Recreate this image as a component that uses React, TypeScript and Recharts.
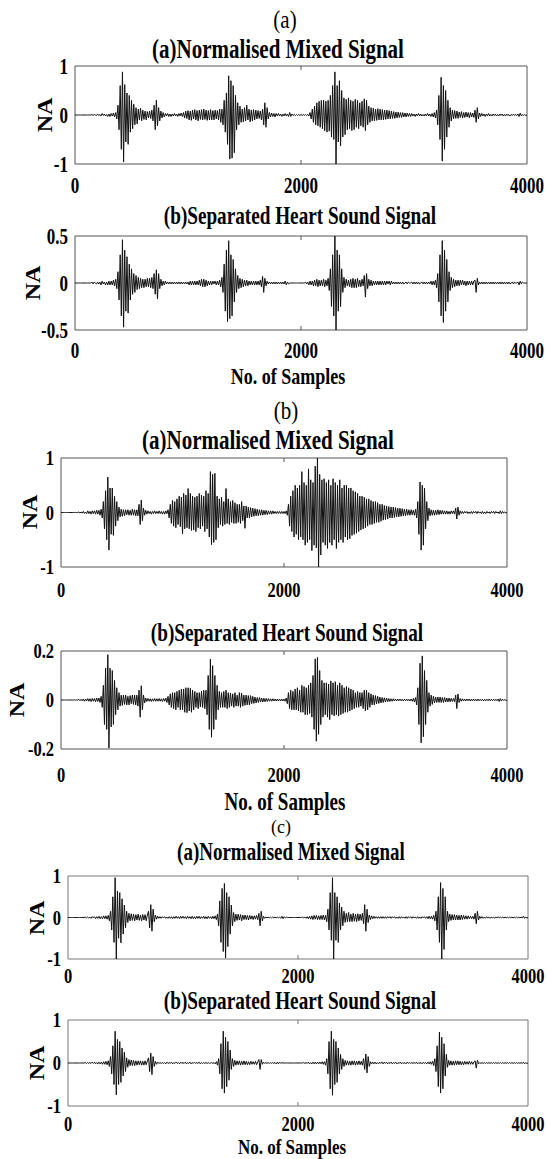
import React from 'react';
import { LineChart, Line, XAxis, YAxis, ReferenceArea } from 'recharts';

// one value every STEP samples, 0..4000 (rows of 20 = 200 samples)
const STEP = 10;
const X_TICKS = [0, 2000, 4000];
const FONT = '"Liberation Serif", "Times New Roman", Times, serif';

// (a) normalised mixed signal
const mixA = [
  0, 0, 0, 0, 0, 0, 0, 0, 0, 0, 0, 0, 0, 0, 0, 0.01, -0.01, 0.01, 0, -0.01,
  0.02, -0.01, 0.01, -0.02, 0.03, -0.01, 0.02, -0.02, 0.01, -0.03, 0.02, -0.03, 0.03, -0.02, 0.04, -0.04, 0.05, -0.08, 0.2, -0.3,
  0.6, -0.7, 0.88, -0.96, 0.62, -0.55, 0.45, -0.6, 0.4, -0.35, 0.3, -0.28, 0.22, -0.2, 0.15, -0.18, 0.12, -0.1, 0.14, -0.12,
  0.1, -0.09, 0.08, -0.1, 0.07, -0.06, 0.08, -0.07, 0.1, -0.12, 0.2, -0.3, 0.3, -0.22, 0.15, -0.12, 0.08, -0.06, 0.05, -0.04,
  0.03, -0.02, 0.03, -0.03, 0.02, -0.03, 0.02, -0.02, 0.03, -0.02, 0.02, -0.03, 0.03, -0.02, 0.04, -0.03, 0.05, -0.06, 0.08, -0.07,
  0.09, -0.1, 0.08, -0.11, 0.1, -0.08, 0.11, -0.1, 0.09, -0.12, 0.1, -0.09, 0.11, -0.1, 0.12, -0.09, 0.1, -0.11, 0.09, -0.1,
  0.11, -0.1, 0.09, -0.1, 0.1, -0.08, 0.09, -0.1, 0.12, -0.15, 0.12, -0.2, 0.3, -0.35, 0.45, -0.6, 0.8, -0.9, 0.7, -0.88,
  0.6, -0.77, 0.4, -0.3, 0.25, -0.2, 0.18, -0.15, 0.12, -0.14, 0.15, -0.12, 0.2, -0.1, 0.12, -0.14, 0.1, -0.12, 0.11, -0.1,
  0.1, -0.08, 0.09, -0.07, 0.08, -0.1, 0.12, -0.2, 0.25, -0.25, 0.15, -0.08, 0.05, -0.04, 0.04, -0.03, 0.03, -0.04, 0.03, -0.02,
  0.03, -0.02, 0.02, -0.03, 0.02, -0.02, 0.03, -0.02, 0.02, -0.03, 0.05, -0.03, 0.02, -0.01, 0.01, -0.01, 0.01, -0.01, 0.01, -0.01,
  0.01, -0.01, 0.01, -0.01, 0.01, -0.01, 0.01, -0.02, 0.05, -0.08, 0.12, -0.15, 0.18, -0.2, 0.25, -0.22, 0.28, -0.25, 0.3, -0.28,
  0.3, -0.32, 0.28, -0.35, 0.3, -0.33, 0.4, -0.45, 0.6, -0.5, 0.88, -1, 0.6, -0.55, 0.7, -0.63, 0.5, -0.45, 0.35, -0.4,
  0.32, -0.3, 0.35, -0.28, 0.3, -0.32, 0.28, -0.3, 0.32, -0.25, 0.3, -0.28, 0.25, -0.22, 0.28, -0.25, 0.33, -0.32, 0.3, -0.2,
  0.18, -0.15, 0.15, -0.12, 0.14, -0.12, 0.12, -0.11, 0.13, -0.1, 0.12, -0.1, 0.11, -0.1, 0.1, -0.09, 0.1, -0.08, 0.09, -0.08,
  0.08, -0.07, 0.07, -0.07, 0.06, -0.06, 0.06, -0.05, 0.05, -0.05, 0.05, -0.04, 0.04, -0.04, 0.04, -0.03, 0.03, -0.03, 0.03, -0.02,
  0.02, -0.03, 0.02, -0.02, 0.03, -0.02, 0.02, -0.02, 0.01, -0.02, 0.02, -0.02, 0.03, -0.02, 0.02, -0.03, 0.03, -0.04, 0.05, -0.06,
  0.1, -0.2, 0.4, -0.5, 0.77, -0.94, 0.6, -0.7, 0.5, -0.45, 0.3, -0.25, 0.15, -0.12, 0.1, -0.08, 0.09, -0.07, 0.08, -0.07,
  0.06, -0.05, 0.07, -0.06, 0.05, -0.05, 0.06, -0.04, 0.05, -0.06, 0.05, -0.04, 0.04, -0.05, 0.1, -0.15, 0.15, -0.08, 0.04, -0.03,
  0.03, -0.02, 0.02, -0.03, 0.02, -0.02, 0.03, -0.02, 0.01, -0.02, 0.02, -0.01, 0.02, -0.02, 0.01, -0.02, 0.02, -0.01, 0.02, -0.02,
  0.01, -0.02, 0.02, -0.01, 0.01, -0.02, 0.01, -0.01, 0.02, -0.01, 0.01, -0.01, 0.02, -0.03, 0.04, -0.02, 0.01, -0.01, 0.01, -0.01,
  0,
];

// (a) separated heart sound
const sepA = [
  0, 0, 0, 0, 0, 0, 0, 0, 0, 0, 0, 0, 0, 0, 0, 0.01, -0.01, 0.01, 0, -0.01,
  0.01, -0.01, 0.01, -0.02, 0.02, -0.01, 0.01, -0.02, 0.01, -0.02, 0.02, -0.02, 0.02, -0.02, 0.03, -0.03, 0.04, -0.06, 0.12, -0.18,
  0.3, -0.35, 0.46, -0.47, 0.35, -0.3, 0.28, -0.32, 0.2, -0.18, 0.15, -0.12, 0.1, -0.1, 0.08, -0.07, 0.06, -0.06, 0.05, -0.05,
  0.04, -0.05, 0.04, -0.04, 0.05, -0.04, 0.05, -0.05, 0.06, -0.06, 0.1, -0.12, 0.14, -0.17, 0.1, -0.06, 0.04, -0.03, 0.02, -0.02,
  0.02, -0.01, 0.01, -0.01, 0.01, -0.01, 0.01, -0.01, 0.01, -0.01, 0.01, -0.01, 0.01, -0.01, 0.01, -0.01, 0.01, -0.01, 0.01, -0.01,
  0.01, -0.02, 0.02, -0.02, 0.02, -0.02, 0.02, -0.02, 0.02, -0.02, 0.03, -0.03, 0.04, -0.04, 0.04, -0.04, 0.03, -0.03, 0.02, -0.02,
  0.02, -0.02, 0.02, -0.01, 0.02, -0.02, 0.02, -0.02, 0.03, -0.04, 0.06, -0.1, 0.2, -0.3, 0.35, -0.41, 0.45, -0.38, 0.3, -0.35,
  0.25, -0.2, 0.15, -0.1, 0.08, -0.06, 0.05, -0.05, 0.04, -0.04, 0.03, -0.03, 0.03, -0.03, 0.02, -0.02, 0.02, -0.02, 0.02, -0.02,
  0.02, -0.02, 0.02, -0.02, 0.03, -0.04, 0.07, -0.1, 0.05, -0.03, 0.02, -0.01, 0.01, -0.01, 0.01, -0.01, 0.01, -0.01, 0.01, -0.01,
  0.01, -0.01, 0.01, -0.01, 0.01, -0.01, 0.02, -0.02, 0.01, -0.01, 0, 0, 0, 0, 0, 0, 0, 0, 0, 0,
  0, 0, 0, 0, 0.01, -0.01, 0.01, -0.02, 0.02, -0.02, 0.02, -0.03, 0.03, -0.03, 0.04, -0.04, 0.03, -0.03, 0.03, -0.03,
  0.04, -0.04, 0.03, -0.03, 0.05, -0.08, 0.15, -0.25, 0.3, -0.35, 0.5, -0.5, 0.35, -0.3, 0.3, -0.25, 0.15, -0.1, 0.06, -0.05,
  0.04, -0.03, 0.03, -0.04, 0.04, -0.05, 0.05, -0.05, 0.04, -0.05, 0.05, -0.04, 0.03, -0.04, 0.04, -0.03, 0.08, -0.15, 0.1, -0.06,
  0.04, -0.03, 0.03, -0.03, 0.02, -0.02, 0.02, -0.02, 0.02, -0.02, 0.02, -0.02, 0.02, -0.02, 0.02, -0.02, 0.02, -0.01, 0.02, -0.02,
  0.02, -0.01, 0.01, -0.01, 0.01, -0.01, 0.01, -0.01, 0.01, -0.01, 0.01, -0.01, 0, 0.01, -0.01, 0.01, 0, 0, 0.01, -0.01,
  0.01, -0.01, 0.01, -0.01, 0.01, -0.01, 0, 0.01, -0.01, 0.01, -0.01, 0.01, -0.01, 0.01, -0.01, 0.02, -0.02, 0.02, -0.02, 0.03,
  -0.05, 0.1, -0.2, 0.3, -0.35, 0.45, -0.42, 0.35, -0.3, 0.25, -0.2, 0.12, -0.08, 0.06, -0.05, 0.04, -0.04, 0.03, -0.03, 0.03,
  -0.03, 0.03, -0.02, 0.03, -0.02, 0.02, -0.03, 0.02, -0.02, 0.02, -0.02, 0.02, -0.02, 0.02, 0.03, -0.1, 0.05, -0.02, 0.01, -0.01,
  0.01, -0.01, 0.01, -0.01, 0.01, -0.01, 0.01, -0.01, 0.01, -0.01, 0.01, -0.01, 0.01, -0.01, 0.01, -0.01, 0.01, -0.01, 0.01, -0.01,
  0.01, -0.01, 0.01, -0.01, 0.01, -0.01, 0, 0.01, -0.01, 0.01, 0, 0, 0.01, -0.02, 0.02, -0.01, 0.01, 0, 0, 0,
  0,
];

// (b) normalised mixed signal
const mixB = [
  0, 0, 0, 0, 0, 0, 0, 0, 0, 0, 0, 0, 0, 0, 0, 0, 0.01, -0.01, 0.01, -0.01,
  0.02, -0.02, 0.01, -0.02, 0.03, -0.02, 0.02, -0.03, 0.03, -0.02, 0.03, -0.03, 0.04, -0.03, 0.04, -0.05, 0.06, -0.1, 0.2, -0.3,
  0.4, -0.5, 0.65, -0.69, 0.45, -0.4, 0.45, -0.42, 0.3, -0.25, 0.2, -0.15, 0.1, -0.08, 0.06, -0.07, 0.05, -0.06, 0.05, -0.04,
  0.05, -0.05, 0.04, -0.05, 0.06, -0.05, 0.05, -0.06, 0.05, -0.06, 0.15, -0.22, 0.23, -0.15, 0.08, -0.05, 0.04, -0.03, 0.03, -0.02,
  0.02, -0.03, 0.02, -0.02, 0.03, -0.02, 0.02, -0.02, 0.03, -0.02, 0.02, -0.03, 0.02, -0.03, 0.03, -0.02, 0.05, -0.1, 0.15, -0.2,
  0.22, -0.25, 0.2, -0.28, 0.25, -0.22, 0.3, -0.26, 0.28, -0.39, 0.35, -0.3, 0.32, -0.28, 0.44, -0.3, 0.35, -0.33, 0.3, -0.32,
  0.28, -0.35, 0.3, -0.28, 0.35, -0.3, 0.32, -0.25, 0.3, -0.35, 0.4, -0.3, 0.35, -0.45, 0.75, -0.59, 0.7, -0.55, 0.72, -0.5,
  0.3, -0.28, 0.25, -0.22, 0.28, -0.25, 0.2, -0.22, 0.44, -0.2, 0.25, -0.22, 0.2, -0.18, 0.22, -0.2, 0.18, -0.2, 0.15, -0.18,
  0.15, -0.2, 0.2, -0.15, 0.12, -0.29, 0.12, -0.1, 0.1, -0.1, 0.09, -0.08, 0.08, -0.07, 0.07, -0.06, 0.06, -0.06, 0.05, -0.05,
  0.05, -0.05, 0.04, -0.04, 0.04, -0.04, 0.03, -0.03, 0.03, -0.03, 0.03, -0.02, 0.02, -0.02, 0.02, -0.02, 0.02, -0.02, 0.02, -0.02,
  0.02, -0.02, 0.03, -0.05, 0.15, -0.25, 0.3, -0.35, 0.4, -0.45, 0.5, -0.4, 0.45, -0.5, 0.5, -0.45, 0.75, -0.5, 0.55, -0.6,
  0.5, -0.55, 0.8, -0.5, 0.6, -0.7, 0.55, -0.6, 0.85, -0.65, 1, -1, 0.7, -0.78, 0.6, -0.55, 0.62, -0.6, 0.55, -0.66,
  0.6, -0.55, 0.5, -0.6, 0.62, -0.5, 0.55, -0.66, 0.5, -0.55, 0.6, -0.5, 0.45, -0.55, 0.5, -0.45, 0.5, -0.5, 0.45, -0.48,
  0.45, -0.42, 0.4, -0.4, 0.38, -0.38, 0.35, -0.35, 0.3, -0.32, 0.3, -0.3, 0.28, -0.28, 0.25, -0.25, 0.25, -0.22, 0.22, -0.22,
  0.2, -0.2, 0.2, -0.18, 0.18, -0.18, 0.15, -0.16, 0.15, -0.14, 0.13, -0.13, 0.12, -0.12, 0.11, -0.1, 0.1, -0.1, 0.1, -0.09,
  0.09, -0.08, 0.08, -0.08, 0.08, -0.07, 0.07, -0.06, 0.06, -0.06, 0.06, -0.05, 0.05, -0.05, 0.05, -0.04, 0.04, -0.05, 0.06, -0.1,
  0.2, -0.4, 0.56, -0.69, 0.5, -0.6, 0.45, -0.3, 0.2, -0.15, 0.08, -0.06, 0.05, -0.05, 0.04, -0.05, 0.04, -0.04, 0.05, -0.04,
  0.04, -0.03, 0.04, -0.03, 0.03, -0.03, 0.03, -0.03, 0.02, -0.03, 0.03, -0.02, 0.03, -0.03, 0.08, -0.12, 0.1, -0.05, 0.03, -0.02,
  0.02, -0.02, 0.02, -0.01, 0.02, -0.02, 0.01, -0.02, 0.02, -0.02, 0.02, -0.01, 0.02, -0.02, 0.02, -0.01, 0.01, -0.02, 0.02, -0.02,
  0.01, -0.02, 0.02, -0.01, 0.01, -0.02, 0.02, -0.01, 0.02, -0.02, 0.02, -0.01, 0.01, -0.02, 0.03, -0.02, 0.02, -0.01, 0.01, -0.01,
  0,
];

// (b) separated heart sound
const sepB = [
  0, 0, 0, 0, 0, 0, 0, 0, 0, 0, 0, 0, 0, 0, 0, 0, 0.003, -0.003, 0.003, -0.003,
  0.004, -0.005, 0.004, -0.004, 0.006, -0.005, 0.005, -0.006, 0.006, -0.005, 0.006, -0.007, 0.008, -0.006, 0.008, -0.01, 0.015, -0.03, 0.06, -0.1,
  0.13, -0.12, 0.185, -0.196, 0.13, -0.11, 0.12, -0.1, 0.08, -0.06, 0.05, -0.04, 0.03, -0.025, 0.02, -0.022, 0.02, -0.018, 0.02, -0.02,
  0.015, -0.02, 0.018, -0.015, 0.02, -0.018, 0.02, -0.02, 0.02, -0.025, 0.04, -0.07, 0.058, -0.04, 0.02, -0.012, 0.008, -0.006, 0.006, -0.005,
  0.005, -0.006, 0.005, -0.005, 0.006, -0.005, 0.005, -0.005, 0.006, -0.005, 0.005, -0.006, 0.006, -0.005, 0.008, -0.01, 0.015, -0.02, 0.025, -0.03,
  0.03, -0.035, 0.03, -0.04, 0.035, -0.03, 0.04, -0.04, 0.045, -0.04, 0.045, -0.05, 0.05, -0.052, 0.05, -0.045, 0.048, -0.05, 0.04, -0.04,
  0.035, -0.03, 0.03, -0.035, 0.03, -0.028, 0.035, -0.03, 0.04, -0.035, 0.04, -0.06, 0.1, -0.12, 0.167, -0.152, 0.14, -0.12, 0.1, -0.08,
  0.06, -0.04, 0.035, -0.03, 0.03, -0.03, 0.035, -0.03, 0.04, -0.035, 0.03, -0.03, 0.028, -0.025, 0.025, -0.03, 0.03, -0.025, 0.02, -0.025,
  0.03, -0.03, 0.028, -0.025, 0.02, -0.022, 0.02, -0.02, 0.018, -0.02, 0.018, -0.015, 0.015, -0.014, 0.012, -0.012, 0.01, -0.01, 0.01, -0.008,
  0.008, -0.008, 0.007, -0.007, 0.006, -0.006, 0.006, -0.005, 0.005, -0.005, 0.005, -0.004, 0.004, -0.004, 0.004, -0.004, 0.004, -0.004, 0.004, -0.004,
  0.004, -0.005, 0.008, -0.015, 0.03, -0.035, 0.04, -0.04, 0.035, -0.04, 0.045, -0.04, 0.05, -0.045, 0.04, -0.05, 0.06, -0.05, 0.055, -0.06,
  0.05, -0.06, 0.06, -0.055, 0.07, -0.07, 0.1, -0.12, 0.168, -0.168, 0.174, -0.14, 0.12, -0.1, 0.08, -0.07, 0.07, -0.06, 0.07, -0.07,
  0.065, -0.08, 0.078, -0.06, 0.07, -0.065, 0.075, -0.06, 0.06, -0.065, 0.07, -0.06, 0.06, -0.055, 0.05, -0.05, 0.055, -0.05, 0.05, -0.045,
  0.045, -0.04, 0.04, -0.035, 0.03, -0.03, 0.035, -0.03, 0.03, -0.025, 0.03, -0.035, 0.04, -0.045, 0.04, -0.04, 0.03, -0.03, 0.025, -0.02,
  0.02, -0.02, 0.018, -0.016, 0.015, -0.014, 0.012, -0.012, 0.01, -0.01, 0.009, -0.008, 0.008, -0.007, 0.006, -0.006, 0.005, -0.005, 0.005, -0.004,
  0.004, -0.004, 0.004, -0.003, 0.004, -0.003, 0.003, -0.004, 0.003, -0.003, 0.004, -0.003, 0.003, -0.004, 0.004, -0.005, 0.006, -0.008, 0.01, -0.02,
  0.05, -0.1, 0.15, -0.175, 0.18, -0.15, 0.12, -0.1, 0.08, -0.05, 0.03, -0.025, 0.02, -0.018, 0.015, -0.012, 0.012, -0.01, 0.012, -0.01,
  0.012, -0.01, 0.01, -0.01, 0.01, -0.008, 0.008, -0.008, 0.008, -0.007, 0.007, -0.006, 0.006, -0.007, 0.02, -0.035, 0.025, -0.01, 0.006, -0.005,
  0.005, -0.004, 0.004, -0.004, 0.004, -0.003, 0.004, -0.004, 0.003, -0.004, 0.004, -0.003, 0.003, -0.004, 0.004, -0.003, 0.003, -0.003, 0.003, -0.004,
  0.003, -0.003, 0.003, -0.003, 0.004, -0.003, 0.003, -0.003, 0.003, -0.003, 0.003, -0.003, 0.004, -0.006, 0.006, -0.004, 0.003, -0.002, 0.002, -0.002,
  0,
];

// (c) normalised mixed signal
const mixC = [
  0, 0, 0, 0, 0, 0, 0, 0, 0, 0, 0, 0, 0, 0, 0, 0.01, -0.01, 0.01, -0.01, 0.01,
  -0.02, 0.02, -0.01, 0.02, -0.03, 0.02, -0.02, 0.03, -0.03, 0.02, -0.03, 0.04, -0.03, 0.04, -0.04, 0.05, -0.08, 0.15, -0.3, 0.5,
  -0.6, 0.96, -1, 0.64, -0.5, 0.6, -0.61, 0.45, -0.4, 0.3, -0.25, 0.15, -0.12, 0.1, -0.08, 0.09, -0.07, 0.08, -0.08, 0.07,
  -0.06, 0.08, -0.07, 0.06, -0.08, 0.07, -0.06, 0.07, -0.08, 0.06, 0.15, -0.25, 0.31, -0.33, 0.2, -0.1, 0.06, -0.04, 0.03, -0.02,
  0.02, -0.02, 0.02, -0.01, 0.02, -0.02, 0.01, -0.02, 0.02, -0.02, 0.02, -0.03, 0.02, -0.02, 0.03, -0.02, 0.02, -0.03, 0.03, -0.02,
  0.03, -0.02, 0.02, -0.03, 0.03, -0.02, 0.02, -0.03, 0.03, -0.03, 0.02, -0.03, 0.03, -0.02, 0.03, -0.03, 0.02, -0.02, 0.03, -0.03,
  0.02, -0.03, 0.03, -0.02, 0.02, -0.03, 0.03, -0.03, 0.04, -0.05, 0.08, -0.2, 0.4, -0.6, 0.7, -0.82, 0.82, -0.98, 0.6, -0.7,
  0.5, -0.4, 0.3, -0.2, 0.12, -0.1, 0.08, -0.07, 0.08, -0.06, 0.07, -0.08, 0.06, -0.05, 0.06, -0.05, 0.05, -0.06, 0.05, -0.04,
  0.04, -0.05, 0.04, -0.04, 0.05, -0.05, 0.1, -0.2, 0.15, -0.08, 0.03, -0.02, 0.01, -0.01, 0.01, -0.01, 0.01, -0.01, 0.01, -0.01,
  0.01, -0.01, 0.01, -0.01, 0.01, -0.02, 0.03, -0.03, 0.02, -0.01, 0.01, 0, 0, 0, 0, 0, 0, 0, 0, 0,
  0, 0, 0, 0, 0.01, -0.01, 0.01, -0.02, 0.02, -0.03, 0.03, -0.04, 0.04, -0.05, 0.05, -0.04, 0.05, -0.05, 0.04, -0.05,
  0.05, -0.05, 0.06, -0.06, 0.05, -0.1, 0.2, -0.3, 0.6, -0.55, 0.96, -1, 0.6, -0.55, 0.5, -0.6, 0.35, -0.3, 0.25, -0.2,
  0.15, -0.12, 0.1, -0.1, 0.12, -0.1, 0.08, -0.1, 0.1, -0.09, 0.08, -0.1, 0.09, -0.08, 0.08, -0.07, 0.1, -0.15, 0.31, -0.33,
  0.2, -0.12, 0.06, -0.05, 0.04, -0.03, 0.03, -0.02, 0.02, -0.02, 0.02, -0.02, 0.02, -0.02, 0.02, -0.02, 0.02, -0.02, 0.02, -0.01,
  0.02, -0.02, 0.02, -0.01, 0.02, -0.02, 0.01, -0.02, 0.02, -0.02, 0.02, -0.01, 0.01, -0.02, 0.02, -0.02, 0.02, -0.01, 0.02, -0.02,
  0.02, -0.01, 0.01, -0.02, 0.02, -0.02, 0.01, -0.02, 0.02, -0.01, 0.02, -0.02, 0.02, -0.03, 0.03, -0.03, 0.03, -0.04, 0.05, -0.08,
  0.15, -0.3, 0.5, -0.6, 0.84, -1, 0.7, -0.77, 0.5, -0.3, 0.15, -0.1, 0.08, -0.07, 0.07, -0.06, 0.07, -0.06, 0.06, -0.06,
  0.05, -0.06, 0.06, -0.05, 0.05, -0.04, 0.04, -0.04, 0.04, -0.03, 0.03, -0.03, 0.03, -0.04, 0.1, -0.15, 0.15, -0.06, 0.03, -0.02,
  0.02, -0.02, 0.01, -0.02, 0.02, -0.01, 0.01, -0.02, 0.01, -0.01, 0.01, -0.02, 0.01, -0.01, 0.02, -0.01, 0.01, -0.01, 0.01, -0.01,
  0.01, -0.01, 0.01, -0.01, 0.01, -0.01, 0.01, -0.01, 0.01, -0.01, 0.01, -0.01, 0.01, -0.01, 0.01, -0.01, 0.03, -0.02, 0.01, -0.01,
  0,
];

// (c) separated heart sound
const sepC = [
  0, 0, 0, 0, 0, 0, 0, 0, 0, 0, 0, 0, 0, 0, 0, 0.01, -0.01, 0.01, -0.01, 0.01,
  -0.01, 0.02, -0.01, 0.02, -0.02, 0.01, -0.02, 0.02, -0.02, 0.02, -0.03, 0.03, -0.03, 0.04, -0.04, 0.05, -0.08, 0.15, -0.25, 0.4,
  -0.5, 0.74, -0.74, 0.55, -0.5, 0.5, -0.45, 0.35, -0.3, 0.25, -0.2, 0.12, -0.1, 0.08, -0.06, 0.07, -0.06, 0.06, -0.06, 0.05,
  -0.05, 0.05, -0.04, 0.05, -0.05, 0.04, -0.05, 0.05, -0.04, 0.05, 0.12, -0.2, 0.23, -0.27, 0.15, -0.08, 0.04, -0.03, 0.02, -0.01,
  0.01, -0.01, 0.01, -0.01, 0.01, -0.02, 0.02, -0.01, 0.01, -0.01, 0.02, -0.02, 0.01, -0.01, 0.02, -0.01, 0.01, -0.02, 0.02, -0.01,
  0.01, -0.01, 0.02, -0.02, 0.01, -0.01, 0.02, -0.02, 0.01, -0.01, 0.02, -0.01, 0.01, -0.01, 0.02, -0.02, 0.01, -0.01, 0.01, -0.01,
  0.01, -0.01, 0.01, -0.01, 0, 0.01, -0.01, 0.01, -0.02, 0.03, -0.05, 0.1, -0.25, 0.45, -0.6, 0.74, -0.7, 0.6, -0.55, 0.5,
  -0.4, 0.3, -0.15, 0.1, -0.08, 0.06, -0.05, 0.05, -0.04, 0.05, -0.05, 0.04, -0.04, 0.05, -0.04, 0.04, -0.04, 0.03, -0.04, 0.04,
  -0.03, 0.03, -0.03, 0.04, -0.04, 0.03, 0.08, -0.15, 0.08, -0.03, 0.02, -0.01, 0.01, -0.01, 0.01, -0.01, 0.01, -0.01, 0.01, -0.01,
  0.01, -0.02, 0.02, -0.02, 0.02, -0.01, 0.01, 0, 0, 0, 0, 0, 0, 0, 0, 0, 0, 0, 0, 0,
  0, 0, 0, 0, 0, 0.01, -0.01, 0.01, -0.01, 0.02, -0.02, 0.01, -0.02, 0.02, -0.02, 0.02, -0.02, 0.02, -0.02, 0.02,
  -0.02, 0.03, -0.03, 0.03, -0.05, 0.1, -0.25, 0.5, -0.6, 0.74, -0.75, 0.55, -0.5, 0.5, -0.45, 0.35, -0.25, 0.2, -0.15, 0.1,
  -0.08, 0.06, -0.05, 0.05, -0.05, 0.04, -0.05, 0.05, -0.04, 0.05, -0.05, 0.04, -0.04, 0.05, -0.04, 0.04, -0.05, 0.1, -0.15, 0.21,
  -0.23, 0.15, -0.08, 0.03, -0.02, 0.02, -0.02, 0.02, -0.02, 0.01, -0.02, 0.02, -0.01, 0.02, -0.02, 0.02, -0.01, 0.02, -0.02, 0.01,
  -0.01, 0.02, -0.02, 0.01, -0.01, 0.02, -0.02, 0.01, -0.01, 0.02, -0.02, 0.01, -0.01, 0.01, -0.02, 0.02, -0.01, 0.01, -0.01, 0.01,
  -0.01, 0.01, -0.01, 0.02, -0.02, 0.01, -0.01, 0.01, -0.02, 0.02, -0.01, 0.01, -0.02, 0.02, -0.02, 0.03, -0.03, 0.04, -0.06, 0.1,
  -0.2, 0.4, -0.55, 0.72, -0.7, 0.6, -0.6, 0.45, -0.3, 0.2, -0.1, 0.06, -0.05, 0.05, -0.05, 0.04, -0.05, 0.05, -0.04, 0.05,
  -0.04, 0.04, -0.04, 0.03, -0.04, 0.04, -0.03, 0.03, -0.03, 0.04, -0.03, 0.03, -0.03, 0.03, 0.05, -0.12, 0.06, -0.02, 0.01, -0.01,
  0.01, -0.01, 0.01, -0.01, 0.01, -0.01, 0.01, -0.01, 0.01, -0.01, 0.01, -0.01, 0.01, -0.01, 0.01, -0.01, 0.01, -0.01, 0.01, -0.01,
  0.01, -0.01, 0.01, -0.01, 0.01, -0.01, 0.01, -0.01, 0.01, -0.01, 0.01, -0.01, 0.01, -0.01, 0.01, -0.01, 0.02, -0.02, 0.01, -0.01,
  0,
];

const Y_TICKS_1 = [-1, 0, 1];
const Y_TICKS_05 = [-0.5, 0, 0.5];
const Y_TICKS_02 = [-0.2, 0, 0.2];

interface PanelDef {
  id: string;
  values: number[];
  yMax: number;
  yTicks: number[];
  left: number;
  right: number;
  top: number;
  bottom: number;
  tickGap: number;
  tickSize: number;
  frame: string;
}

const PANELS: PanelDef[] = [
  { id: 'mixA', values: mixA, yMax: 1, yTicks: Y_TICKS_1, left: 75, right: 527, top: 66, bottom: 164, tickGap: 29, tickSize: 17, frame: '#555' },
  { id: 'sepA', values: sepA, yMax: 0.5, yTicks: Y_TICKS_05, left: 75, right: 527, top: 236, bottom: 330, tickGap: 28, tickSize: 17, frame: '#555' },
  { id: 'mixB', values: mixB, yMax: 1, yTicks: Y_TICKS_1, left: 61, right: 507, top: 458, bottom: 567, tickGap: 30, tickSize: 16.5, frame: '#555' },
  { id: 'sepB', values: sepB, yMax: 0.2, yTicks: Y_TICKS_02, left: 61, right: 507, top: 651, bottom: 749, tickGap: 33, tickSize: 16.5, frame: '#555' },
  { id: 'mixC', values: mixC, yMax: 1, yTicks: Y_TICKS_1, left: 68, right: 528, top: 876, bottom: 959, tickGap: 24, tickSize: 16.5, frame: '#777' },
  { id: 'sepC', values: sepC, yMax: 1, yTicks: Y_TICKS_1, left: 68, right: 528, top: 1020, bottom: 1106, tickGap: 25, tickSize: 16.5, frame: '#777' },
];

const PAD = 12;
const AXIS_H = 48;
const STRETCH = 1.3;

const MIXED = '(a)Normalised Mixed Signal';
const SEPARATED = '(b)Separated Heart Sound Signal';
const XLABEL = 'No. of Samples';

// free text around the panels: [text, x, baseline, size, bold, vertical stretch]
const TEXTS: [string, number, number, number, boolean, number][] = [
  ['(a)', 285, 28, 21, false, 1.15],
  [MIXED, 278, 58, 21, true, 1.3],
  [SEPARATED, 300, 224, 19.2, true, 1.3],
  [XLABEL, 288, 384, 18, true, 1.25],
  ['(b)', 286, 419, 21, false, 1.15],
  [MIXED, 268, 449, 21, true, 1.3],
  [SEPARATED, 287, 641, 19.2, true, 1.3],
  [XLABEL, 285, 810, 19, true, 1.3],
  ['(c)', 281, 833, 18, false, 1.1],
  [MIXED, 291, 860, 19, true, 1.3],
  [SEPARATED, 300, 1009, 19.2, true, 1.3],
  [XLABEL, 292, 1154, 17, true, 1.2],
];

const NA_POS: [number, number][] = [[45, 115], [33, 283], [30, 512], [17, 700], [37, 918], [37, 1063]];

function Panel({ p }: { p: PanelDef }) {
  const data = p.values.map((v, i) => ({ n: i * STEP, v }));
  const plotH = p.bottom - p.top;
  const height = plotH + PAD + AXIS_H;

  const XTick = (props: any) => {
    const { x, payload } = props;
    const yb = PAD + plotH;
    return (
      <g>
        {payload.value === 2000 && (
          <>
            <line x1={x} x2={x} y1={yb} y2={yb - 4} stroke={p.frame} />
            <line x1={x} x2={x} y1={PAD} y2={PAD + 4} stroke={p.frame} />
          </>
        )}
        <text
          transform={`translate(${x},${yb + p.tickGap}) scale(1,${STRETCH})`}
          textAnchor="middle"
          fontFamily={FONT}
          fontWeight="bold"
          fontSize={p.tickSize}
          fill="#000"
        >
          {payload.value}
        </text>
      </g>
    );
  };

  const YTick = (props: any) => {
    const { y, payload } = props;
    return (
      <text
        transform={`translate(${p.left - 7},${y}) scale(1,${STRETCH})`}
        textAnchor="end"
        dominantBaseline="central"
        fontFamily={FONT}
        fontWeight="bold"
        fontSize={p.tickSize}
        fill="#000"
      >
        {String(payload.value)}
      </text>
    );
  };

  return (
    <div style={{ position: 'absolute', left: 0, top: p.top - PAD }}>
      <LineChart
        width={547}
        height={height}
        data={data}
        margin={{ top: PAD, right: 547 - p.right, bottom: 0, left: 0 }}
      >
        <XAxis
          dataKey="n"
          type="number"
          domain={[0, 4000]}
          ticks={X_TICKS}
          allowDataOverflow
          height={AXIS_H}
          axisLine={false}
          tickLine={false}
          tick={XTick}
          interval={0}
        />
        <YAxis
          type="number"
          domain={[-p.yMax, p.yMax]}
          ticks={p.yTicks}
          allowDataOverflow
          width={p.left}
          axisLine={false}
          tickLine={false}
          tick={YTick}
          interval={0}
        />
        <ReferenceArea
          x1={0}
          x2={4000}
          y1={-p.yMax}
          y2={p.yMax}
          fill="none"
          fillOpacity={0}
          stroke={p.frame}
          strokeWidth={1}
          ifOverflow="visible"
        />
        <Line
          dataKey="v"
          type="linear"
          stroke="#111"
          strokeWidth={1}
          dot={false}
          isAnimationActive={false}
        />
      </LineChart>
    </div>
  );
}

export default function App() {
  return (
    <div style={{ position: 'absolute', left: 0, top: 0, width: 547, height: 1159, background: '#fff', overflow: 'hidden' }}>
      {PANELS.map((p) => (
        <Panel key={p.id} p={p} />
      ))}
      <svg width={547} height={1159} style={{ position: 'absolute', left: 0, top: 0, pointerEvents: 'none' }}>
        {TEXTS.map(([t, x, y, fs, bold, sy], i) => (
          <text
            key={i}
            transform={`translate(${x},${y}) scale(1,${sy})`}
            textAnchor="middle"
            fontFamily={FONT}
            fontWeight={bold ? 'bold' : 'normal'}
            fontSize={fs}
            fill="#000"
          >
            {t}
          </text>
        ))}
        {NA_POS.map(([x, y], i) => (
          <text
            key={'na' + i}
            transform={`translate(${x},${y}) rotate(-90) scale(1.2,1)`}
            textAnchor="middle"
            dominantBaseline="central"
            fontFamily={FONT}
            fontWeight="bold"
            fontSize={20}
            fill="#000"
          >
            NA
          </text>
        ))}
      </svg>
    </div>
  );
}
